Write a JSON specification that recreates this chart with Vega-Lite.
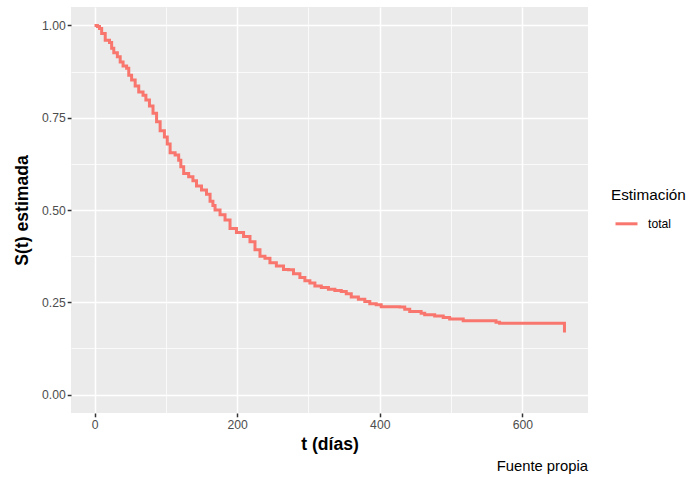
{
  "$schema": "https://vega.github.io/schema/vega-lite/v6.json",
  "autosize": "none",
  "padding": {"left": 71, "top": 7, "right": 105, "bottom": 64},
  "width": 517,
  "height": 406,
  "background": "white",
  "config": {
    "font": "Liberation Sans",
    "view": {"fill": "#EBEBEB", "stroke": null}
  },
  "title": {
    "text": "Fuente propia",
    "orient": "bottom",
    "anchor": "end",
    "frame": "group",
    "fontSize": 14.8,
    "fontWeight": "normal",
    "color": "#000000",
    "font": "Liberation Sans",
    "offset": 6
  },
  "data": {
    "values": [
      {"t": 0, "S": 1.0, "grupo": "total"},
      {"t": 4, "S": 0.997, "grupo": "total"},
      {"t": 7, "S": 0.992, "grupo": "total"},
      {"t": 10, "S": 0.978, "grupo": "total"},
      {"t": 15, "S": 0.960, "grupo": "total"},
      {"t": 21, "S": 0.954, "grupo": "total"},
      {"t": 24, "S": 0.938, "grupo": "total"},
      {"t": 27, "S": 0.926, "grupo": "total"},
      {"t": 32, "S": 0.915, "grupo": "total"},
      {"t": 36, "S": 0.901, "grupo": "total"},
      {"t": 40, "S": 0.890, "grupo": "total"},
      {"t": 45, "S": 0.884, "grupo": "total"},
      {"t": 48, "S": 0.865, "grupo": "total"},
      {"t": 52, "S": 0.852, "grupo": "total"},
      {"t": 57, "S": 0.836, "grupo": "total"},
      {"t": 62, "S": 0.820, "grupo": "total"},
      {"t": 68, "S": 0.811, "grupo": "total"},
      {"t": 72, "S": 0.798, "grupo": "total"},
      {"t": 77, "S": 0.782, "grupo": "total"},
      {"t": 82, "S": 0.762, "grupo": "total"},
      {"t": 87, "S": 0.739, "grupo": "total"},
      {"t": 92, "S": 0.715, "grupo": "total"},
      {"t": 98, "S": 0.698, "grupo": "total"},
      {"t": 102, "S": 0.679, "grupo": "total"},
      {"t": 106, "S": 0.655, "grupo": "total"},
      {"t": 113, "S": 0.649, "grupo": "total"},
      {"t": 118, "S": 0.635, "grupo": "total"},
      {"t": 121, "S": 0.617, "grupo": "total"},
      {"t": 125, "S": 0.599, "grupo": "total"},
      {"t": 132, "S": 0.590, "grupo": "total"},
      {"t": 138, "S": 0.579, "grupo": "total"},
      {"t": 143, "S": 0.565, "grupo": "total"},
      {"t": 150, "S": 0.554, "grupo": "total"},
      {"t": 157, "S": 0.543, "grupo": "total"},
      {"t": 162, "S": 0.524, "grupo": "total"},
      {"t": 166, "S": 0.512, "grupo": "total"},
      {"t": 169, "S": 0.500, "grupo": "total"},
      {"t": 176, "S": 0.487, "grupo": "total"},
      {"t": 183, "S": 0.473, "grupo": "total"},
      {"t": 190, "S": 0.450, "grupo": "total"},
      {"t": 199, "S": 0.439, "grupo": "total"},
      {"t": 209, "S": 0.428, "grupo": "total"},
      {"t": 218, "S": 0.414, "grupo": "total"},
      {"t": 225, "S": 0.392, "grupo": "total"},
      {"t": 232, "S": 0.375, "grupo": "total"},
      {"t": 239, "S": 0.369, "grupo": "total"},
      {"t": 246, "S": 0.357, "grupo": "total"},
      {"t": 255, "S": 0.348, "grupo": "total"},
      {"t": 265, "S": 0.339, "grupo": "total"},
      {"t": 272, "S": 0.338, "grupo": "total"},
      {"t": 279, "S": 0.327, "grupo": "total"},
      {"t": 288, "S": 0.317, "grupo": "total"},
      {"t": 295, "S": 0.308, "grupo": "total"},
      {"t": 302, "S": 0.302, "grupo": "total"},
      {"t": 309, "S": 0.294, "grupo": "total"},
      {"t": 318, "S": 0.290, "grupo": "total"},
      {"t": 328, "S": 0.285, "grupo": "total"},
      {"t": 337, "S": 0.282, "grupo": "total"},
      {"t": 346, "S": 0.279, "grupo": "total"},
      {"t": 353, "S": 0.273, "grupo": "total"},
      {"t": 360, "S": 0.264, "grupo": "total"},
      {"t": 370, "S": 0.258, "grupo": "total"},
      {"t": 379, "S": 0.252, "grupo": "total"},
      {"t": 386, "S": 0.246, "grupo": "total"},
      {"t": 395, "S": 0.243, "grupo": "total"},
      {"t": 402, "S": 0.238, "grupo": "total"},
      {"t": 428, "S": 0.237, "grupo": "total"},
      {"t": 435, "S": 0.231, "grupo": "total"},
      {"t": 442, "S": 0.225, "grupo": "total"},
      {"t": 458, "S": 0.220, "grupo": "total"},
      {"t": 463, "S": 0.216, "grupo": "total"},
      {"t": 477, "S": 0.213, "grupo": "total"},
      {"t": 489, "S": 0.209, "grupo": "total"},
      {"t": 498, "S": 0.205, "grupo": "total"},
      {"t": 517, "S": 0.200, "grupo": "total"},
      {"t": 563, "S": 0.196, "grupo": "total"},
      {"t": 568, "S": 0.193, "grupo": "total"},
      {"t": 659, "S": 0.168, "grupo": "total"}
    ]
  },
  "mark": {"type": "line", "interpolate": "step-after", "strokeWidth": 3, "clip": true},
  "encoding": {
    "x": {
      "field": "t",
      "type": "quantitative",
      "scale": {"domain": [-33, 692], "nice": false, "zero": false},
      "axis": {
        "title": "t (días)",
        "values": [0, 100, 200, 300, 400, 500, 600],
        "labelExpr": "datum.value % 200 === 0 ? datum.label : ''",
        "format": "d",
        "domain": false,
        "grid": true,
        "gridColor": "#FFFFFF",
        "gridWidth": {"condition": {"test": "datum.value % 200 !== 0", "value": 0.75}, "value": 1.5},
        "tickColor": "#333333",
        "tickWidth": 1.5,
        "tickSize": 3.8,
        "tickOpacity": {"condition": {"test": "datum.value % 200 !== 0", "value": 0}, "value": 1},
        "labelColor": "#4D4D4D",
        "labelFontSize": 12.2,
        "labelFont": "Liberation Sans",
        "labelPadding": 2,
        "titleFont": "Liberation Sans",
        "titleFontSize": 17.6,
        "titleFontWeight": "bold",
        "titleColor": "#000000",
        "titlePadding": 4
      }
    },
    "y": {
      "field": "S",
      "type": "quantitative",
      "scale": {"domain": [-0.05, 1.05], "nice": false, "zero": false},
      "axis": {
        "title": "S(t) estimada",
        "values": [0, 0.125, 0.25, 0.375, 0.5, 0.625, 0.75, 0.875, 1],
        "labelExpr": "(datum.value * 4) % 1 === 0 ? format(datum.value, '.2f') : ''",
        "domain": false,
        "grid": true,
        "gridColor": "#FFFFFF",
        "gridWidth": {"condition": {"test": "(datum.value * 4) % 1 !== 0", "value": 0.75}, "value": 1.5},
        "tickColor": "#333333",
        "tickWidth": 1.5,
        "tickSize": 3.8,
        "tickOpacity": {"condition": {"test": "(datum.value * 4) % 1 !== 0", "value": 0}, "value": 1},
        "labelColor": "#4D4D4D",
        "labelFontSize": 12.2,
        "labelFont": "Liberation Sans",
        "labelPadding": 2,
        "titleFont": "Liberation Sans",
        "titleFontSize": 17.6,
        "titleFontWeight": "bold",
        "titleColor": "#000000",
        "titlePadding": 10
      }
    },
    "color": {
      "field": "grupo",
      "type": "nominal",
      "scale": {"domain": ["total"], "range": ["#F8766D"]},
      "legend": {
        "title": "Estimación",
        "orient": "none",
        "legendX": 540,
        "legendY": 181,
        "titleFont": "Liberation Sans",
        "titleFontSize": 15.3,
        "titleFontWeight": "normal",
        "titleColor": "#000000",
        "titlePadding": 8,
        "labelFont": "Liberation Sans",
        "labelFontSize": 12.2,
        "labelColor": "#000000",
        "symbolType": "stroke",
        "symbolSize": 484,
        "symbolStrokeWidth": 3,
        "symbolOffset": 3,
        "labelOffset": 9
      }
    }
  }
}
